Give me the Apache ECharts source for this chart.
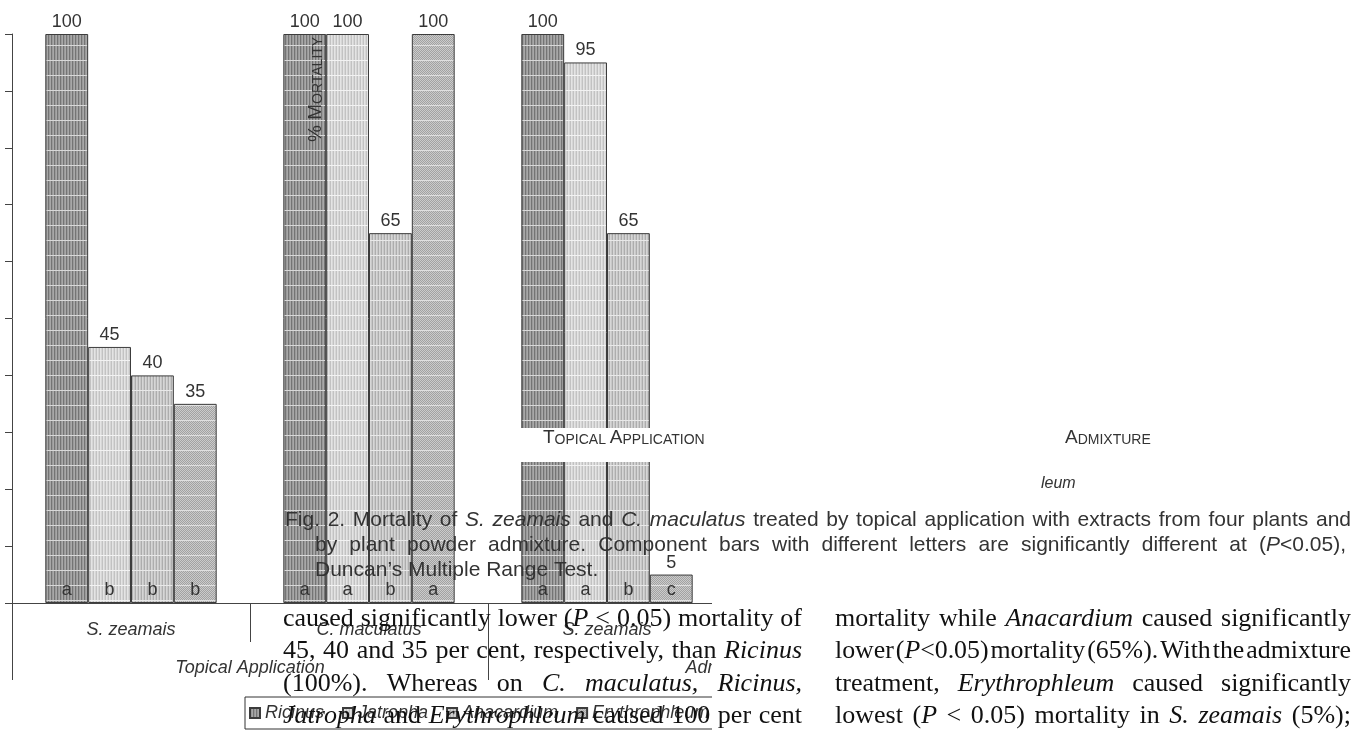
<!DOCTYPE html>
<html>
<head>
<meta charset="utf-8">
<script src="https://cdn.jsdelivr.net/npm/echarts@6/dist/echarts.min.js"></script>
<style>
html,body{margin:0;padding:0;background:#fff;}
#chart{width:1357px;height:730px;}
</style>
</head>
<body>
<div id="chart"></div>
<script>
// ---------------- data ----------------
const categories = ['S. zeamais', 'C. maculatus', 'S. zeamais', 'C. maculatus'];
const treatments = ['Topical Application', 'Admixture'];
const plants = ['Ricinus', 'Jatropha', 'Anacardium', 'Erythrophleum'];
const ricinusValues = [100, 100, 100, null];
const jatrophaValues = [45, 100, 95, null];
const anacardiumValues = [40, 65, 65, null];
const erythrophleumValues = [35, 100, 5, null];
const ricinusLetters = ['a', 'a', 'a', null];
const jatrophaLetters = ['b', 'a', 'a', null];
const anacardiumLetters = ['b', 'b', 'b', null];
const erythrophleumLetters = ['b', 'a', 'c', null];
const yMin = 0, yMax = 100, yInterval = 10;

// page text that overlaps the figure
const captionLines = [
  'Fig. 2. Mortality of *S. zeamais* and *C. maculatus* treated by topical application with extracts from four plants and',
  'by plant powder admixture. Component bars with different letters are significantly different at (*P*<0.05),',
  'Duncan\u2019s Multiple Range Test.'
];
const leftColumn = [
  'caused significantly lower (*P* < 0.05) mortality of',
  '45, 40 and 35 per cent, respectively, than *Ricinus*',
  '(100%). Whereas on *C. maculatus, Ricinus,*',
  '*Jatropha* and *Erythrophleum* caused 100 per cent'
];
const rightColumn = [
  'mortality while *Anacardium* caused significantly',
  'lower (*P*<0.05) mortality (65%). With the admixture',
  'treatment, *Erythrophleum* caused significantly',
  'lowest (*P* < 0.05) mortality in *S. zeamais* (5%);'
];

const valuesByPlant = [ricinusValues, jatrophaValues, anacardiumValues, erythrophleumValues];
const lettersByPlant = [ricinusLetters, jatrophaLetters, anacardiumLetters, erythrophleumLetters];

// ---------------- patterns ----------------
function makePattern(cols, line, checker) {
  const w = cols.length, h = 15;
  const c = document.createElement('canvas');
  c.width = w; c.height = h;
  const g = c.getContext('2d');
  for (let y = 0; y < h; y++) {
    for (let x = 0; x < w; x++) {
      let col = cols[x];
      if (checker) col = cols[(x + y) % w];
      g.fillStyle = col;
      g.fillRect(x, y, 1, 1);
    }
  }
  g.fillStyle = line;
  g.fillRect(0, 0, w, 1);
  return { image: c, repeat: 'repeat' };
}
const fills = [
  makePattern(['#747474', '#9a9a9a', '#a8a8a8'], '#d8d8d8', false),
  makePattern(['#c2c2c2', '#e4e4e4', '#d6d6d6'], '#f2f2f2', false),
  makePattern(['#adadad', '#d6d6d6', '#c8c8c8'], '#e8e8e8', false),
  makePattern(['#a2a2a2', '#cbcbcb'], '#e0e0e0', true)
];

const SANS = "'Liberation Sans', Arial, sans-serif";
const SERIF = "'Liberation Serif', 'Times New Roman', serif";

// ---------------- series ----------------
const series = [];
plants.forEach((name, i) => {
  const letters = lettersByPlant[i];
  series.push({
    name: name + ' letters',
    type: 'bar',
    stack: 'p' + i,
    xAxisIndex: 0,
    silent: true,
    z: 6,
    barGap: '0%',
    barCategoryGap: '28%',
    data: letters.map(l => (l == null ? null : 0)),
    itemStyle: { color: 'rgba(0,0,0,0)', borderWidth: 0 },
    label: {
      show: true, position: 'top', distance: 4,
      formatter: p => letters[p.dataIndex] || '',
      fontSize: 18, fontFamily: SANS, color: '#333'
    }
  });
  series.push({
    name: name,
    type: 'bar',
    stack: 'p' + i,
    xAxisIndex: 0,
    z: 3,
    barGap: '0%',
    barCategoryGap: '28%',
    data: valuesByPlant[i],
    itemStyle: { color: fills[i], borderColor: '#3c3c3c', borderWidth: 1 },
    label: {
      show: true, position: 'top', distance: 3,
      fontSize: 18, fontFamily: SANS, color: '#333'
    }
  });
});

// ---------------- overlay text helpers ----------------
const mctx = document.createElement('canvas').getContext('2d');
function fontStr(it, size, family) { return (it ? 'italic ' : '') + size + 'px ' + family; }
function parseMarkup(s) {
  const words = []; let cur = []; let run = ''; let it = false;
  const flush = () => { if (run) { cur.push([run, it]); run = ''; } };
  for (const ch of s) {
    if (ch === '*') { flush(); it = !it; }
    else if (ch === ' ') { flush(); if (cur.length) { words.push(cur); cur = []; } }
    else run += ch;
  }
  flush(); if (cur.length) words.push(cur);
  return words;
}
function layoutLine(s, x0, x1, baseline, size, family, color, justify, els) {
  const words = parseMarkup(s);
  const widths = words.map(w => w.reduce((a, r) => { mctx.font = fontStr(r[1], size, family); return a + mctx.measureText(r[0]).width; }, 0));
  mctx.font = fontStr(false, size, family);
  const sp = mctx.measureText(' ').width;
  const total = widths.reduce((a, b) => a + b, 0);
  let gap = (justify && words.length > 1) ? (x1 - x0 - total) / (words.length - 1) : sp;
  let scale = 1;
  const minGap = 0.3 * sp;
  if (justify && gap < minGap) {
    gap = minGap;
    scale = (x1 - x0 - minGap * (words.length - 1)) / total;
  }
  const cy = baseline - 0.34 * size;
  let x = x0;
  words.forEach((w, i) => {
    let xx = x;
    w.forEach(r => {
      const f = fontStr(r[1], size, family);
      mctx.font = f;
      els.push({
        type: 'text', z: 110, silent: true, x: xx, y: cy, scaleX: scale,
        style: { text: r[0], x: 0, y: 0, font: f, fill: color, textAlign: 'left', textVerticalAlign: 'middle' }
      });
      xx += mctx.measureText(r[0]).width * scale;
    });
    x += widths[i] * scale + gap;
  });
}

const graphics = [
  // page areas that hide parts of the figure
  { type: 'rect', z: 100, silent: true, shape: { x: 712, y: 0, width: 660, height: 740 }, style: { fill: '#fff' } },
  { type: 'rect', z: 100, silent: true, shape: { x: 458, y: 428, width: 260, height: 34 }, style: { fill: '#fff' } }
];
layoutLine(captionLines[0], 285, 1351, 527, 21, SANS, '#333', true, graphics);
layoutLine(captionLines[1], 315, 1346, 552, 21, SANS, '#333', true, graphics);
layoutLine(captionLines[2], 315, 1346, 577, 21, SANS, '#333', false, graphics);
const paraBase = [628, 660.5, 693, 725.5];
leftColumn.forEach((l, i) => layoutLine(l, 283, 802, paraBase[i], 26, SERIF, '#111', true, graphics));
rightColumn.forEach((l, i) => layoutLine(l, 835, 1351, paraBase[i], 26, SERIF, '#111', true, graphics));

const capRich = {
  a: { fontSize: 19, fontFamily: SANS, fill: '#333', verticalAlign: 'bottom' },
  b: { fontSize: 14, fontFamily: SANS, fill: '#333', verticalAlign: 'bottom' }
};
graphics.push(
  { type: 'text', z: 110, silent: true, x: 543, y: 447,
    style: { text: '{a|T}{b|OPICAL }{a|A}{b|PPLICATION}', rich: capRich, textAlign: 'left', textVerticalAlign: 'bottom' } },
  { type: 'text', z: 110, silent: true, x: 1065, y: 447,
    style: { text: '{a|A}{b|DMIXTURE}', rich: capRich, textAlign: 'left', textVerticalAlign: 'bottom' } },
  { type: 'text', z: 110, silent: true, x: 325, y: 142, rotation: Math.PI / 2,
    style: { text: '{a|% M}{b|ORTALITY}', rich: capRich, textAlign: 'left', textVerticalAlign: 'bottom' } },
  { type: 'text', z: 110, silent: true, x: 1041, y: 484,
    style: { text: 'leum', font: 'italic 16px ' + SANS, fill: '#333', textAlign: 'left', textVerticalAlign: 'middle' } }
);

// ---------------- chart ----------------
const chart = echarts.init(document.getElementById('chart'), null, { renderer: 'canvas' });
chart.setOption({
  animation: false,
  backgroundColor: '#fff',
  grid: { left: 12, right: 393, top: 34, bottom: 127, containLabel: false },
  legend: {
    data: plants,
    left: 245, top: 697,
    orient: 'horizontal',
    icon: 'rect',
    itemWidth: 10, itemHeight: 10, itemGap: 18,
    padding: [7, 6, 7, 4],
    borderColor: '#333', borderWidth: 1,
    selectedMode: false,
    textStyle: { fontSize: 18, fontStyle: 'italic', fontFamily: SANS, color: '#333' }
  },
  xAxis: [
    {
      type: 'category', data: categories, position: 'bottom',
      axisLine: { show: true, lineStyle: { color: '#444', width: 1 } },
      axisTick: { show: true, length: 39, lineStyle: { color: '#444' } },
      axisLabel: { interval: 0, margin: 18, fontSize: 18, fontStyle: 'italic', fontFamily: SANS, color: '#333' },
      splitLine: { show: false }
    },
    {
      type: 'category', data: treatments, position: 'bottom',
      axisLine: { show: false },
      axisTick: { show: true, length: 77, lineStyle: { color: '#444' } },
      axisLabel: { interval: 0, margin: 56, fontSize: 18, fontStyle: 'italic', fontFamily: SANS, color: '#333' },
      splitLine: { show: false }
    }
  ],
  yAxis: {
    type: 'value', min: yMin, max: yMax, interval: yInterval,
    axisLine: { show: true, lineStyle: { color: '#444', width: 1 } },
    axisTick: { show: true, length: 7, lineStyle: { color: '#444' } },
    axisLabel: { show: false },
    splitLine: { show: false }
  },
  series: series,
  graphic: { elements: graphics }
});
</script>
</body>
</html>
